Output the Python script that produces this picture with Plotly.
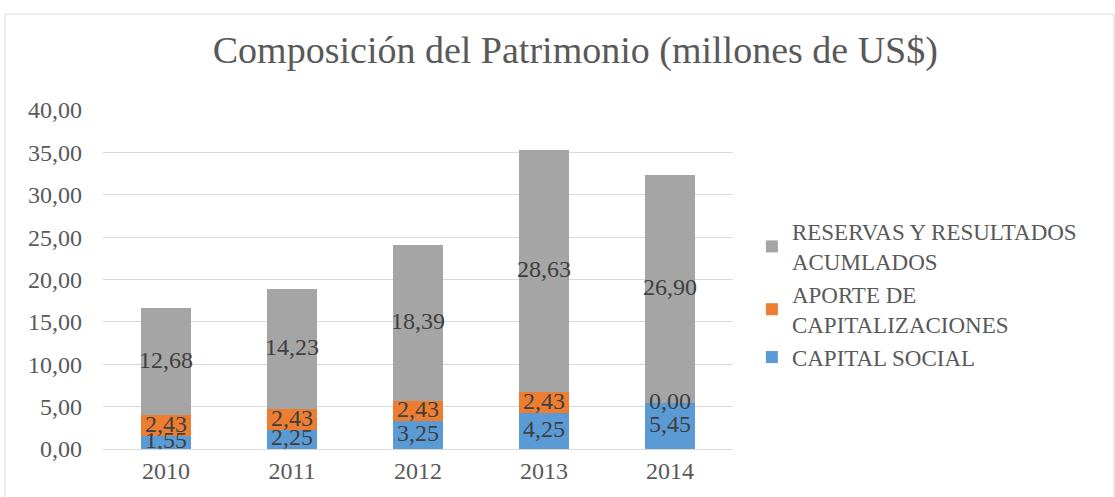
import plotly.graph_objects as go

anios = ['2010', '2011', '2012', '2013', '2014']
capital_social = [1.55, 2.25, 3.25, 4.25, 5.45]
aporte_capitalizaciones = [2.43, 2.43, 2.43, 2.43, 0.00]
reservas_resultados = [12.68, 14.23, 18.39, 28.63, 26.90]

series = [
    ('CAPITAL SOCIAL', capital_social, '#5B9BD5'),
    ('APORTE DE<br>CAPITALIZACIONES', aporte_capitalizaciones, '#ED7D31'),
    ('RESERVAS Y RESULTADOS<br>ACUMLADOS', reservas_resultados, '#A5A5A5'),
]

fuente = 'Liberation Serif, Times New Roman, serif'
gris = '#595959'

fig = go.Figure()
base = [0.0] * len(anios)
etiquetas_y = []
etiquetas_x = []
etiquetas_txt = []
for nombre, valores, color in series:
    fig.add_trace(go.Bar(
        x=anios, y=valores, name=nombre,
        marker=dict(color=color, line=dict(width=0)),
        hoverinfo='y+name',
    ))
    for i, v in enumerate(valores):
        etiquetas_x.append(anios[i])
        etiquetas_y.append(base[i] + v / 2)
        etiquetas_txt.append(f'{v:.2f}'.replace('.', ','))
        base[i] += v

# etiquetas de datos (incluye el 0,00 de 2014)
fig.add_trace(go.Scatter(
    x=etiquetas_x, y=etiquetas_y, text=etiquetas_txt, mode='text',
    textfont=dict(family=fuente, size=24, color='#404040'),
    showlegend=False, hoverinfo='skip',
))

fig.update_layout(
    width=1115, height=497,
    barmode='stack', bargap=0.6,
    separators=',.',
    paper_bgcolor='white', plot_bgcolor='white',
    margin=dict(l=103, r=382, t=110, b=48),
    font=dict(family=fuente, color=gris, size=24),
    title=dict(text='Composición del Patrimonio (millones de US$)',
               x=0.516, xref='container', xanchor='center',
               y=0.9, yref='container', yanchor='middle',
               font=dict(family=fuente, size=38, color=gris)),
    legend=dict(x=1.03, xanchor='left', y=0.705, yanchor='top',
                traceorder='reversed', font=dict(family=fuente, size=23, color=gris),
                itemsizing='constant'),
    xaxis=dict(showgrid=False, showline=True, linecolor='#D9D9D9', linewidth=1,
               ticks='', tickfont=dict(size=24, color=gris)),
    yaxis=dict(range=[0, 40], dtick=5, tickformat='.2f', showgrid=True,
               gridcolor='#D9D9D9', gridwidth=1, zeroline=False, showline=False,
               ticks='', ticklabelstandoff=20, tickfont=dict(size=24, color=gris)),
    shapes=[dict(type='rect', xref='paper', yref='paper',
                 x0=(5 - 103) / 630, x1=(1114 - 103) / 630,
                 y0=(449 - 500) / 339, y1=(449 - 14) / 339,
                 line=dict(color='#D9D9D9', width=1), fillcolor='rgba(0,0,0,0)',
                 layer='below')],
)

fig.write_html('out.html', config={'displayModeBar': False},
               post_script="document.body.style.margin='0';")
